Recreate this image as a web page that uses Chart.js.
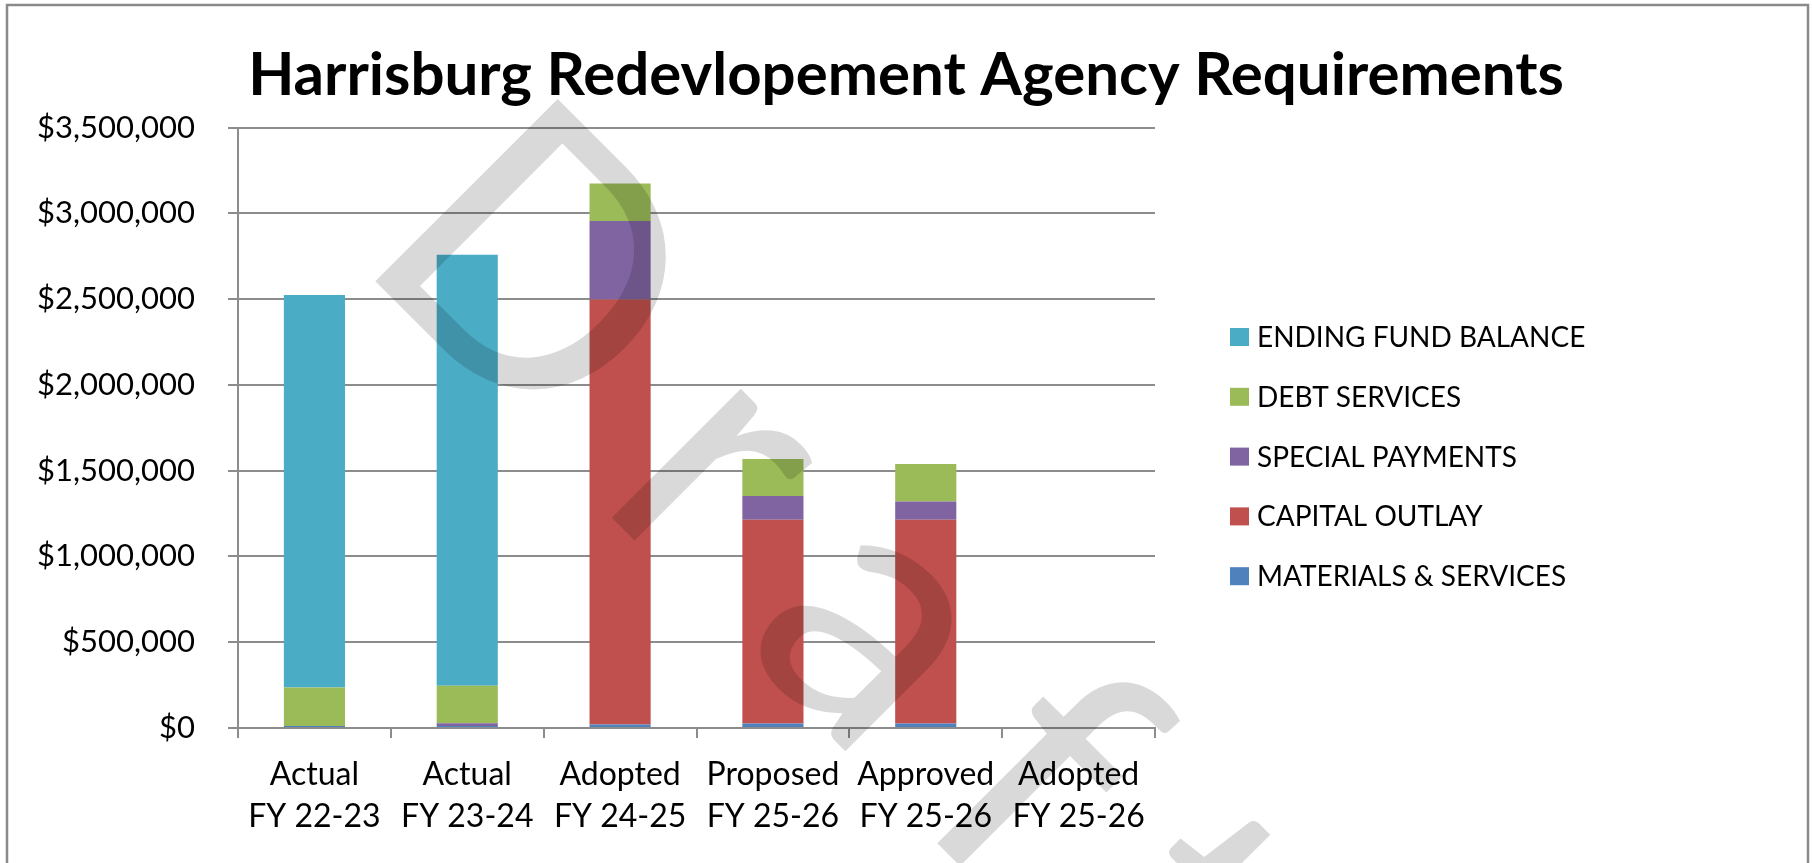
<!DOCTYPE html>
<html>
<head>
<meta charset="utf-8">
<script src="https://cdn.jsdelivr.net/npm/chart.js@4.4.1/dist/chart.umd.min.js"></script>
<style>
  html, body { margin: 0; padding: 0; background: #ffffff; }
  #wrap { width: 1812px; height: 863px; position: relative; }
</style>
</head>
<body>
<div id="wrap"><canvas id="c"></canvas></div>
<script>
const categories = [
  ["Actual", "FY 22-23"],
  ["Actual", "FY 23-24"],
  ["Adopted", "FY 24-25"],
  ["Proposed", "FY 25-26"],
  ["Approved", "FY 25-26"],
  ["Adopted", "FY 25-26"]
];
const seriesNames = ["MATERIALS & SERVICES", "CAPITAL OUTLAY", "SPECIAL PAYMENTS", "DEBT SERVICES", "ENDING FUND BALANCE"];
const materialsServices = [12000, 12000, 20000, 26000, 26000, 0];
const capitalOutlay = [0, 0, 2479000, 1188000, 1188000, 0];
const specialPayments = [0, 15000, 457000, 138000, 107000, 0];
const debtServices = [224000, 220000, 218000, 216000, 218000, 0];
const endingFundBalance = [2288000, 2512000, 0, 0, 0, 0];
const yTickValues = [0, 500000, 1000000, 1500000, 2000000, 2500000, 3000000, 3500000];
const titleText = "Harrisburg Redevlopement Agency Requirements";
const watermarkText = "Draft";

const seriesColors = ["#4F81BD", "#C0504D", "#8064A2", "#9BBB59", "#4BACC6"];
const seriesValues = [materialsServices, capitalOutlay, specialPayments, debtServices, endingFundBalance];

const FONT = "Lato, 'Open Sans', sans-serif";

const frameAndBg = {
  id: 'frameAndBg',
  beforeDraw(chart) {
    const ctx = chart.ctx;
    ctx.save();
    ctx.fillStyle = '#ffffff';
    ctx.fillRect(0, 0, chart.width, chart.height);
    ctx.strokeStyle = '#8a8a8a';
    ctx.lineWidth = 2.5;
    ctx.strokeRect(7, 5, 1801, 900);
    ctx.restore();
  }
};

const sideLegend = {
  id: 'sideLegend',
  afterDraw(chart) {
    const ctx = chart.ctx;
    const ds = chart.data.datasets.slice().reverse();
    ctx.save();
    ctx.font = "28px " + FONT;
    ctx.textBaseline = 'middle';
    ctx.textAlign = 'left';
    ds.forEach((d, i) => {
      const y = 337 + i * 59.8;
      ctx.fillStyle = d.backgroundColor;
      ctx.fillRect(1230, y - 9, 19, 18);
      ctx.fillStyle = '#000000';
      ctx.fillText(d.label, 1257, y + 1);
    });
    ctx.restore();
  }
};

const watermark = {
  id: 'watermark',
  afterDraw(chart) {
    const ctx = chart.ctx;
    ctx.save();
    ctx.translate(352, 258);
    ctx.rotate(Math.PI / 4);
    ctx.font = "360px " + FONT;
    try { ctx.letterSpacing = '72px'; } catch (e) {}
    ctx.fillStyle = 'rgba(0,0,0,0.15)';
    ctx.textBaseline = 'alphabetic';
    ctx.textAlign = 'left';
    ctx.fillText(watermarkText, 0, 0);
    ctx.restore();
  }
};

const datasets = seriesNames.map((name, i) => ({
  label: name,
  data: seriesValues[i],
  backgroundColor: seriesColors[i],
  borderWidth: 0,
  categoryPercentage: 1.0,
  barPercentage: 0.4
}));

new Chart(document.getElementById('c'), {
  type: 'bar',
  data: { labels: categories, datasets },
  plugins: [frameAndBg, sideLegend, watermark],
  options: {
    responsive: true,
    maintainAspectRatio: false,
    animation: false,
    devicePixelRatio: 1,
    layout: { padding: 0 },
    plugins: {
      legend: { display: false },
      tooltip: { enabled: false },
      title: {
        display: true,
        text: titleText,
        color: '#000000',
        font: { family: FONT, size: 60, weight: 'bold', lineHeight: 1.2 },
        padding: { top: 39.6, bottom: 16.1 }
      }
    },
    scales: {
      x: {
        stacked: true,
        grid: { display: true, drawOnChartArea: false, drawTicks: true, tickLength: 10, color: '#8c8c8c', lineWidth: 2 },
        border: { display: true, color: '#8c8c8c', width: 2 },
        ticks: {
          color: '#000000',
          padding: 16,
          maxRotation: 0,
          autoSkip: false,
          font: { family: FONT, size: 32, lineHeight: 1.31 }
        },
        afterFit(s) { s.height = 135; }
      },
      y: {
        stacked: true,
        min: 0,
        max: yTickValues[yTickValues.length - 1],
        afterBuildTicks(s) { s.ticks = yTickValues.map(v => ({ value: v })); },
        grid: { color: '#8c8c8c', lineWidth: 2, tickLength: 10, drawTicks: true },
        border: { display: true, color: '#8c8c8c', width: 2 },
        ticks: {
          color: '#000000',
          padding: 33,
          font: { family: FONT, size: 31 },
          callback: v => '$' + Number(v).toLocaleString('en-US')
        },
        afterFit(s) { s.width = 238; }
      },
      spacer: {
        type: 'linear',
        position: 'right',
        display: true,
        grid: { display: false, drawTicks: false },
        border: { display: false },
        ticks: { display: false },
        afterFit(s) { s.width = 657; }
      }
    }
  }
});
</script>
</body>
</html>
